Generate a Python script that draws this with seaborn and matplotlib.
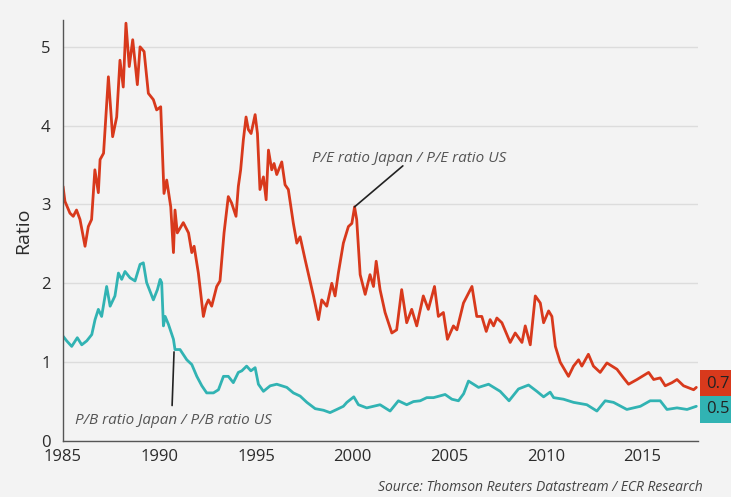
import numpy as np
import pandas as pd
import matplotlib
matplotlib.use("Agg")
import matplotlib.pyplot as plt
import seaborn as sns
from matplotlib.ticker import MultipleLocator

# P/E ratio Japan / P/E ratio US
pe_years = [1985.0, 1985.1, 1985.36, 1985.53, 1985.7, 1985.88, 1986.14, 1986.31, 1986.48, 1986.65,
            1986.83, 1986.92, 1987.1, 1987.35, 1987.57, 1987.78, 1987.95, 1988.12, 1988.26, 1988.43,
            1988.61, 1988.85, 1988.99, 1989.2, 1989.42, 1989.68, 1989.85, 1990.06, 1990.23, 1990.37,
            1990.58, 1990.72, 1990.8, 1990.92, 1991.23, 1991.5, 1991.67, 1991.79, 1992.01, 1992.27,
            1992.4, 1992.53, 1992.7, 1992.96, 1993.13, 1993.34, 1993.56, 1993.73, 1993.96, 1994.08,
            1994.2, 1994.34, 1994.48, 1994.6, 1994.74, 1994.95, 1995.07, 1995.2, 1995.38, 1995.52,
            1995.64, 1995.81, 1995.93, 1996.07, 1996.33, 1996.5, 1996.67, 1996.93, 1997.11, 1997.28,
            1997.54, 1997.97, 1998.23, 1998.4, 1998.66, 1998.92, 1999.09, 1999.26, 1999.52, 1999.78,
            1999.96, 2000.1, 2000.21, 2000.39, 2000.65, 2000.9, 2001.08, 2001.22, 2001.42, 2001.68,
            2002.03, 2002.28, 2002.54, 2002.8, 2003.06, 2003.32, 2003.66, 2003.92, 2004.24, 2004.44,
            2004.7, 2004.91, 2005.22, 2005.4, 2005.74, 2006.18, 2006.43, 2006.69, 2006.92, 2007.12,
            2007.3, 2007.47, 2007.73, 2008.16, 2008.42, 2008.77, 2008.94, 2009.2, 2009.46, 2009.72,
            2009.89, 2010.15, 2010.32, 2010.5, 2010.75, 2011.18, 2011.44, 2011.7, 2011.87, 2012.21,
            2012.47, 2012.82, 2013.17, 2013.43, 2013.69, 2014.03, 2014.29, 2014.73, 2015.33, 2015.59,
            2015.93, 2016.19, 2016.54, 2016.8, 2017.14, 2017.66, 2017.8]
pe_values = [3.23, 3.04, 2.89, 2.85, 2.93, 2.81, 2.47, 2.72, 2.81, 3.44,
             3.15, 3.57, 3.65, 4.62, 3.86, 4.11, 4.83, 4.49, 5.30, 4.75,
             5.09, 4.52, 5.00, 4.94, 4.41, 4.33, 4.20, 4.24, 3.14, 3.31,
             2.97, 2.39, 2.93, 2.64, 2.77, 2.64, 2.39, 2.47, 2.13, 1.58,
             1.72, 1.79, 1.71, 1.96, 2.03, 2.64, 3.10, 3.02, 2.85, 3.23,
             3.44, 3.82, 4.11, 3.95, 3.90, 4.14, 3.90, 3.19, 3.35, 3.06,
             3.69, 3.44, 3.52, 3.38, 3.54, 3.25, 3.19, 2.76, 2.51, 2.59,
             2.30, 1.84, 1.54, 1.79, 1.71, 2.00, 1.84, 2.13, 2.51, 2.72,
             2.76, 2.97, 2.81, 2.11, 1.86, 2.11, 1.96, 2.28, 1.92, 1.63,
             1.37, 1.41, 1.92, 1.50, 1.67, 1.46, 1.84, 1.67, 1.96, 1.58,
             1.63, 1.29, 1.46, 1.41, 1.75, 1.96, 1.58, 1.58, 1.39, 1.54,
             1.46, 1.56, 1.50, 1.25, 1.37, 1.25, 1.46, 1.22, 1.84, 1.75,
             1.50, 1.65, 1.58, 1.20, 1.00, 0.82, 0.95, 1.03, 0.95, 1.10,
             0.95, 0.87, 0.99, 0.95, 0.91, 0.80, 0.72, 0.78, 0.87, 0.78,
             0.80, 0.70, 0.74, 0.78, 0.70, 0.65, 0.68]

# P/B ratio Japan / P/B ratio US
pb_years = [1985.0, 1985.19, 1985.45, 1985.74, 1985.97, 1986.23, 1986.49, 1986.66, 1986.83, 1987.0,
            1987.26, 1987.44, 1987.69, 1987.87, 1988.04, 1988.21, 1988.47, 1988.73, 1988.99, 1989.16,
            1989.33, 1989.68, 1989.89, 1990.03, 1990.11, 1990.2, 1990.29, 1990.46, 1990.72, 1990.8,
            1991.06, 1991.41, 1991.67, 1991.93, 1992.19, 1992.44, 1992.79, 1993.05, 1993.31, 1993.56,
            1993.82, 1994.08, 1994.26, 1994.51, 1994.73, 1994.95, 1995.12, 1995.38, 1995.73, 1996.07,
            1996.59, 1996.93, 1997.28, 1997.63, 1998.06, 1998.49, 1998.83, 1999.18, 1999.52, 1999.7,
            2000.06, 2000.3, 2000.73, 2001.42, 2001.94, 2002.37, 2002.8, 2003.15, 2003.5, 2003.84,
            2004.19, 2004.79, 2005.14, 2005.48, 2005.75, 2006.0, 2006.52, 2007.04, 2007.64, 2008.1,
            2008.59, 2009.11, 2009.54, 2009.89, 2010.23, 2010.41, 2010.92, 2011.44, 2012.13, 2012.65,
            2013.08, 2013.51, 2014.2, 2014.9, 2015.41, 2015.93, 2016.28, 2016.8, 2017.32, 2017.8]
pb_values = [1.33, 1.27, 1.20, 1.31, 1.22, 1.27, 1.35, 1.54, 1.67, 1.58,
             1.96, 1.71, 1.84, 2.13, 2.05, 2.15, 2.07, 2.03, 2.24, 2.26,
             2.01, 1.79, 1.92, 2.05, 2.01, 1.46, 1.58, 1.48, 1.29, 1.16,
             1.16, 1.03, 0.97, 0.82, 0.70, 0.61, 0.61, 0.65, 0.82, 0.82,
             0.74, 0.87, 0.89, 0.95, 0.89, 0.93, 0.72, 0.63, 0.70, 0.72,
             0.68, 0.61, 0.57, 0.49, 0.41, 0.39, 0.36, 0.40, 0.44, 0.49,
             0.56, 0.46, 0.42, 0.46, 0.38, 0.51, 0.46, 0.50, 0.51, 0.55,
             0.55, 0.59, 0.53, 0.51, 0.60, 0.76, 0.68, 0.72, 0.63, 0.51,
             0.66, 0.71, 0.63, 0.56, 0.62, 0.55, 0.53, 0.49, 0.46, 0.38,
             0.51, 0.49, 0.40, 0.44, 0.51, 0.51, 0.40, 0.42, 0.40, 0.44]

last_labels = ["0.7", "0.5"]
pe_label = "P/E ratio Japan / P/E ratio US"
pb_label = "P/B ratio Japan / P/B ratio US"
source_text = "Source: Thomson Reuters Datastream / ECR Research"

red = "#d8391c"
teal = "#31b3b3"
bg = "#f3f3f3"

sns.set_style("white")
plt.rcParams["font.family"] = ["Open Sans", "DejaVu Sans"]

fig = plt.figure(figsize=(7.31, 4.97), dpi=100, facecolor=bg)
ax = fig.add_axes([0.0862, 0.1127, 0.869, 0.847])
ax.set_facecolor(bg)

pe = pd.DataFrame({"year": pe_years, "ratio": pe_values})
pb = pd.DataFrame({"year": pb_years, "ratio": pb_values})
sns.lineplot(data=pe, x="year", y="ratio", color=red, lw=2.0, ax=ax)
sns.lineplot(data=pb, x="year", y="ratio", color=teal, lw=2.0, ax=ax)

ax.set_xlim(1985, 2017.9)
ax.set_ylim(0, 5.34)
ax.set_xticks([1985, 1990, 1995, 2000, 2005, 2010, 2015])
ax.set_yticks([0, 1, 2, 3, 4, 5])
ax.xaxis.set_minor_locator(MultipleLocator(1))
ax.yaxis.set_minor_locator(MultipleLocator(0.2))
ax.grid(axis="y", color="#dcdcdc", lw=1)
ax.set_axisbelow(True)
for s in ["top", "right"]:
    ax.spines[s].set_visible(False)
for s in ["left", "bottom"]:
    ax.spines[s].set_color("#555555")
    ax.spines[s].set_linewidth(1)
ax.tick_params(axis="both", which="major", labelsize=12, colors="#555555",
               labelcolor="#2b2b2b", length=4, direction="inout", width=1)
ax.tick_params(axis="both", which="minor", colors="#777777", length=3,
               direction="inout", width=0.8)
ax.tick_params(axis="y", pad=7)
ax.tick_params(axis="x", pad=4)
ax.set_xlabel("")
ax.set_ylabel("Ratio", fontsize=14, color="#2b2b2b", labelpad=6)

# annotations
ax.annotate("", xy=(2000.1, 2.97), xytext=(2002.6, 3.49),
            arrowprops=dict(arrowstyle="-", color="#222222", lw=1.2, shrinkA=0, shrinkB=0))
ax.text(1997.9, 3.58, pe_label, fontsize=11, style="italic", color="#555555",
        va="center", ha="left")
ax.annotate("", xy=(1990.75, 1.13), xytext=(1990.65, 0.45),
            arrowprops=dict(arrowstyle="-", color="#222222", lw=1.2, shrinkA=0, shrinkB=0))
ax.text(1985.6, 0.26, pb_label, fontsize=11, style="italic", color="#555555",
        va="center", ha="left")

# last value boxes at right edge
ax.text(1.012, 0.72 / 5.34, last_labels[0], transform=ax.transAxes, fontsize=12,
        color="#222222", va="center", ha="left",
        bbox=dict(boxstyle="square,pad=0.35", fc=red, ec="none"))
ax.text(1.012, 0.40 / 5.34, last_labels[1], transform=ax.transAxes, fontsize=12,
        color="#222222", va="center", ha="left",
        bbox=dict(boxstyle="square,pad=0.35", fc=teal, ec="none"))

fig.text(0.962, 0.02, source_text, fontsize=10, style="italic", color="#444444",
         ha="right", va="center")

fig.savefig("out.png", dpi=100, facecolor=bg)
